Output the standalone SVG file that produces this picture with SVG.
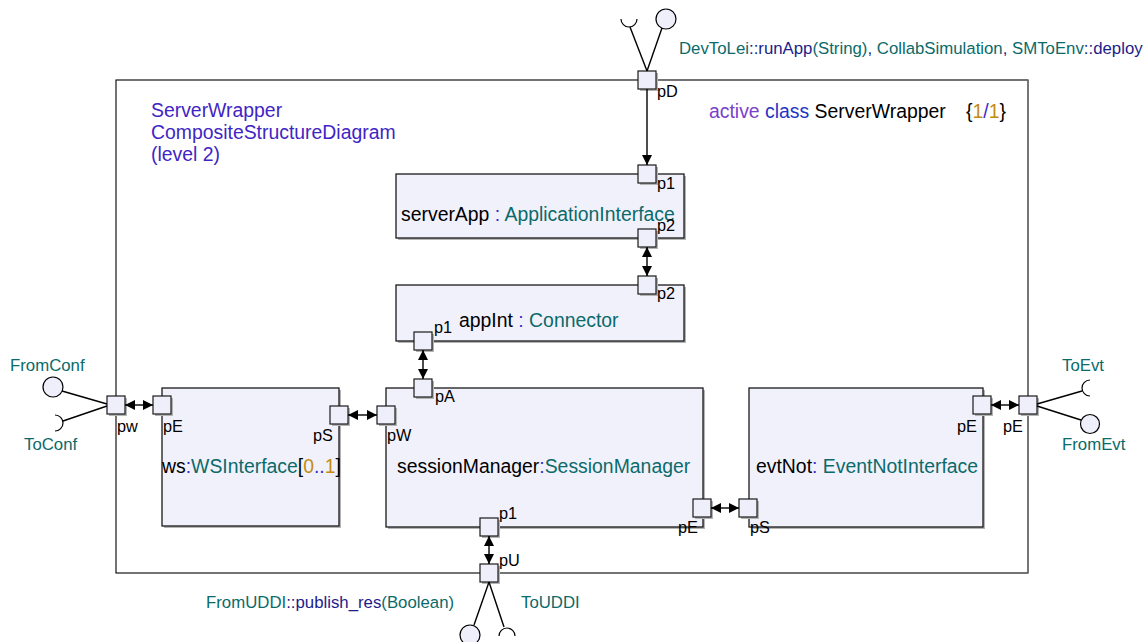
<svg xmlns="http://www.w3.org/2000/svg" width="1148" height="642" viewBox="0 0 1148 642">
<defs>
<marker id="arr" viewBox="0 0 10 10" refX="10" refY="5" markerWidth="10" markerHeight="10" markerUnits="userSpaceOnUse" orient="auto-start-reverse">
<path d="M0,0 L10,5 L0,10 z" fill="#000"/>
</marker>
</defs>
<style>
text{font-family:"Liberation Sans",Arial,Helvetica,sans-serif;}
.big{font-size:19.4px;fill:#000;}
.pl{font-size:16.3px;fill:#000;}
.il{font-size:16.8px;fill:#0b6a6a;}
.title{font-size:19.4px;fill:#3f25c4;}
.teal{fill:#0b6a6a;}
.navy{fill:#1c1c8c;}
.blue{fill:#3a2acc;}
.gold{fill:#c58b12;}
.purple{fill:#7a3fcb;}
.cls{fill:#1f35c6;}
.box{fill:#f1f1fc;stroke:#1a1a1a;stroke-width:1.3;}
.sh{fill:#b4b4b4;}
.port{fill:#efeffc;stroke:#1a1a1a;stroke-width:1.2;}
.ln{stroke:#000;stroke-width:1.4;fill:none;}
.ifc{fill:#efeffc;stroke:#000;stroke-width:1.2;}
.sock{fill:none;stroke:#000;stroke-width:1.2;}
.frame{fill:none;stroke:#000;stroke-width:1.1;}
</style>

<g id="frame">
<rect class="frame" x="116" y="80" width="912" height="493"/>
<line x1="1028" y1="80" x2="1028" y2="573" stroke="#777" stroke-width="1.6"/>
<text class="title" x="151" y="117">ServerWrapper</text>
<text class="title" x="151" y="139">CompositeStructureDiagram</text>
<text class="title" x="151" y="161">(level 2)</text>
<text class="big" x="709" y="118"><tspan class="purple">active</tspan> <tspan class="cls">class</tspan> ServerWrapper</text>
<text class="big" x="966" y="118">{<tspan class="gold">1</tspan><tspan class="blue">/</tspan><tspan class="gold">1</tspan>}</text>
</g>

<g id="serverApp">
<rect class="sh" x="398" y="176" width="288" height="64"/>
<rect class="box" x="396" y="174" width="288" height="64"/>
<text class="big" x="401" y="221">serverApp<tspan class="blue"> : </tspan><tspan class="teal">ApplicationInterface</tspan></text>
</g>

<g id="appInt">
<rect class="sh" x="398" y="287" width="288" height="56"/>
<rect class="box" x="396" y="285" width="288" height="56"/>
<text class="big" x="459" y="327">appInt<tspan class="blue"> : </tspan><tspan class="teal">Connector</tspan></text>
</g>

<g id="ws">
<rect class="sh" x="164" y="390" width="177" height="138"/>
<rect class="box" x="162" y="388" width="177" height="138"/>
<text class="big" x="162" y="473">ws<tspan class="blue">:</tspan><tspan class="teal">WSInterface</tspan>[<tspan class="gold">0</tspan><tspan class="blue">..</tspan><tspan class="gold">1</tspan>]</text>
</g>

<g id="sessionManager">
<rect class="sh" x="388" y="390" width="317" height="139"/>
<rect class="box" x="386" y="388" width="317" height="139"/>
<text class="big" x="397" y="473">sessionManager<tspan class="blue">:</tspan><tspan class="teal">SessionManager</tspan></text>
</g>

<g id="evtNot">
<rect class="sh" x="751" y="390" width="234" height="139"/>
<rect class="box" x="749" y="388" width="234" height="139"/>
<text class="big" x="756" y="473">evtNot<tspan class="blue">:</tspan><tspan class="teal"> EventNotInterface</tspan></text>
</g>

<g id="ports">
<g id="port-pD"><rect class="sh" x="640" y="73" width="18" height="18"/><rect class="port" x="638" y="71" width="18" height="18"/><text class="pl" x="657" y="97">pD</text></g>
<g id="port-serverApp-p1"><rect class="sh" x="640" y="167" width="18" height="18"/><rect class="port" x="638" y="165" width="18" height="18"/><text class="pl" x="657" y="189">p1</text></g>
<g id="port-serverApp-p2"><rect class="sh" x="640" y="231" width="18" height="18"/><rect class="port" x="638" y="229" width="18" height="18"/><text class="pl" x="657" y="231">p2</text></g>
<g id="port-appInt-p2"><rect class="sh" x="640" y="278" width="18" height="18"/><rect class="port" x="638" y="276" width="18" height="18"/><text class="pl" x="657" y="299">p2</text></g>
<g id="port-appInt-p1"><rect class="sh" x="416" y="334" width="18" height="18"/><rect class="port" x="414" y="332" width="18" height="18"/><text class="pl" x="434" y="333">p1</text></g>
<g id="port-pA"><rect class="sh" x="416" y="381" width="18" height="18"/><rect class="port" x="414" y="379" width="18" height="18"/><text class="pl" x="435" y="402">pA</text></g>
<g id="port-pW"><rect class="sh" x="379" y="408" width="18" height="18"/><rect class="port" x="377" y="406" width="18" height="18"/><text class="pl" x="387" y="441">pW</text></g>
<g id="port-sm-p1"><rect class="sh" x="482" y="520" width="18" height="18"/><rect class="port" x="480" y="518" width="18" height="18"/><text class="pl" x="499" y="519">p1</text></g>
<g id="port-sm-pE"><rect class="sh" x="695" y="501" width="18" height="18"/><rect class="port" x="693" y="499" width="18" height="18"/><text class="pl" x="678" y="533">pE</text></g>
<g id="port-evt-pS"><rect class="sh" x="741" y="501" width="18" height="18"/><rect class="port" x="739" y="499" width="18" height="18"/><text class="pl" x="750" y="533">pS</text></g>
<g id="port-pU"><rect class="sh" x="482" y="566" width="18" height="18"/><rect class="port" x="480" y="564" width="18" height="18"/><text class="pl" x="499" y="566">pU</text></g>
<g id="port-pw"><rect class="sh" x="109" y="398" width="18" height="18"/><rect class="port" x="107" y="396" width="18" height="18"/><text class="pl" x="117" y="432">pw</text></g>
<g id="port-ws-pE"><rect class="sh" x="155" y="398" width="18" height="18"/><rect class="port" x="153" y="396" width="18" height="18"/><text class="pl" x="163" y="432">pE</text></g>
<g id="port-ws-pS"><rect class="sh" x="332" y="408" width="18" height="18"/><rect class="port" x="330" y="406" width="18" height="18"/><text class="pl" x="313" y="441">pS</text></g>
<g id="port-evt-pE"><rect class="sh" x="975" y="398" width="18" height="18"/><rect class="port" x="973" y="396" width="18" height="18"/><text class="pl" x="957" y="432">pE</text></g>
<g id="port-outer-pE"><rect class="sh" x="1021" y="398" width="18" height="18"/><rect class="port" x="1019" y="396" width="18" height="18"/><text class="pl" x="1003" y="432">pE</text></g>
</g>

<g id="connectors">
<line class="ln" x1="647" y1="89" x2="647" y2="165" marker-end="url(#arr)"/>
<line class="ln" x1="647" y1="247" x2="647" y2="276" marker-start="url(#arr)" marker-end="url(#arr)"/>
<line class="ln" x1="423" y1="350" x2="423" y2="379" marker-start="url(#arr)" marker-end="url(#arr)"/>
<line class="ln" x1="125" y1="405" x2="153" y2="405" marker-start="url(#arr)" marker-end="url(#arr)"/>
<line class="ln" x1="348" y1="415" x2="377" y2="415" marker-start="url(#arr)" marker-end="url(#arr)"/>
<line class="ln" x1="711" y1="508" x2="739" y2="508" marker-start="url(#arr)" marker-end="url(#arr)"/>
<line class="ln" x1="489" y1="536" x2="489" y2="564" marker-start="url(#arr)" marker-end="url(#arr)"/>
<line class="ln" x1="991" y1="405" x2="1019" y2="405" marker-start="url(#arr)" marker-end="url(#arr)"/>
</g>

<g id="interface-top">
<line class="ln" x1="647" y1="71" x2="662" y2="28"/>
<line class="ln" x1="647" y1="71" x2="630" y2="27"/>
<circle class="ifc" cx="666" cy="19" r="10"/>
<path class="sock" d="M621,19 A8,8 0 0 0 637,19"/>
<text class="il" x="679" y="54">DevToLei<tspan class="navy">::runApp</tspan>(String)<tspan class="navy">,</tspan> CollabSimulation<tspan class="navy">,</tspan> SMToEnv<tspan class="navy">::deploy</tspan></text>
</g>

<g id="interface-left">
<line class="ln" x1="107" y1="404" x2="62" y2="391"/>
<line class="ln" x1="107" y1="406" x2="63" y2="421"/>
<circle class="ifc" cx="53" cy="387" r="10"/>
<path class="sock" d="M55,415 A8,8 0 0 1 55,431"/>
<text class="il" x="10" y="371">FromConf</text>
<text class="il" x="24" y="450">ToConf</text>
</g>

<g id="interface-right">
<line class="ln" x1="1037" y1="404" x2="1082" y2="391"/>
<line class="ln" x1="1037" y1="406" x2="1081" y2="420"/>
<path class="sock" d="M1090,380 A8,8 0 0 0 1090,396"/>
<circle class="ifc" cx="1090" cy="424" r="9.5"/>
<text class="il" x="1062" y="371">ToEvt</text>
<text class="il" x="1062" y="450">FromEvt</text>
</g>

<g id="interface-bottom">
<line class="ln" x1="489" y1="582" x2="474" y2="625"/>
<line class="ln" x1="489" y1="582" x2="504" y2="627"/>
<circle class="ifc" cx="470" cy="635" r="10"/>
<path class="sock" d="M499,636 A8,8 0 0 1 515,636"/>
<text class="il" x="206" y="608">FromUDDI<tspan class="navy">::publish_res</tspan>(Boolean)</text>
<text class="il" x="521" y="608">ToUDDI</text>
</g>
</svg>
